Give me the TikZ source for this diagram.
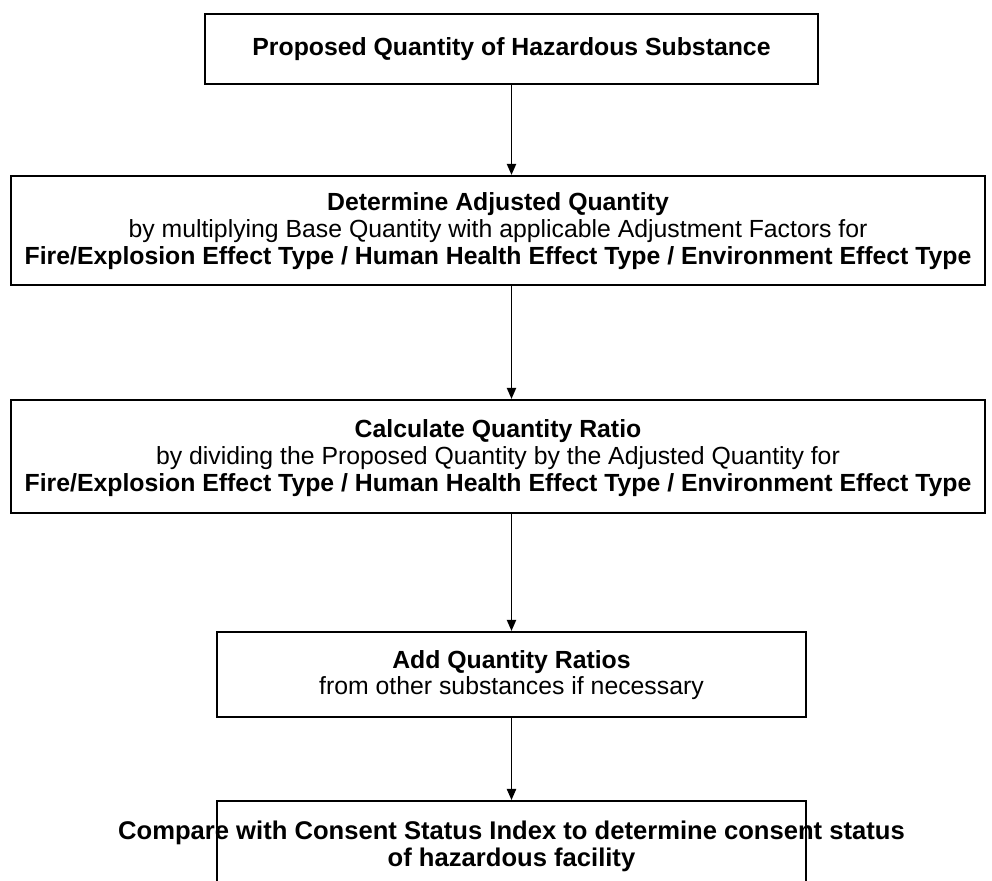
\documentclass[tikz,border=0pt]{standalone}
\usepackage{fontspec}
\setmainfont{Liberation Sans}
\usetikzlibrary{arrows.meta}
\begin{document}
\begin{tikzpicture}[x=0.5pt,y=-0.5pt,
  box/.style={draw, line width=1.1pt, inner sep=0pt},
  txt/.style={align=center, inner sep=0pt, font=\fontsize{12.4}{13.4}\selectfont},
  conn/.style={-{Triangle[length=5.5pt,width=4.6pt]}, line width=0.75pt}]
\useasboundingbox (0,0) rectangle (992,881);
\clip (0,0) rectangle (992,881);
% boxes
\node[box, minimum width=306.5pt, minimum height=35pt] (p1) at (511.5,49) {};
\node[box, minimum width=487pt, minimum height=54.5pt] (p2) at (498,230.5) {};
\node[box, minimum width=487pt, minimum height=56.5pt] (p3) at (498,456.5) {};
\node[box, minimum width=294.5pt, minimum height=42.5pt] (p4) at (511.5,674.5) {};
\node[box, minimum width=294.5pt, minimum height=60pt, anchor=north] (p5) at (511.5,800) {};
% texts
\node[txt] (t1) at (511.5,49)
  {\textbf{Proposed Quantity of Hazardous Substance}};
\node[txt] (t2) at (498,231)
  {\textbf{Determine Adjusted Quantity}\\
   by multiplying Base Quantity with applicable Adjustment Factors for\\
   \textbf{Fire/Explosion Effect Type / Human Health Effect Type / Environment Effect Type}};
\node[txt] (t3) at (498,458)
  {\textbf{Calculate Quantity Ratio}\\
   by dividing the Proposed Quantity by the Adjusted Quantity for\\
   \textbf{Fire/Explosion Effect Type / Human Health Effect Type / Environment Effect Type}};
\node[txt] (t4) at (511.5,675)
  {\textbf{Add Quantity Ratios}\\ from other substances if necessary};
\node[txt, font=\fontsize{12.8}{13.5}\selectfont] (t5) at (511.5,846)
  {\textbf{Compare with Consent Status Index to determine consent status}\\
   \textbf{of hazardous facility}};
% connectors
\draw[conn] (p1.south) -- (p1.south |- p2.north);
\draw[conn] (p2.south -| p1.south) -- (p3.north -| p1.south);
\draw[conn] (p3.south -| p4.north) -- (p4.north);
\draw[conn] (p4.south) -- (p5.north);
\end{tikzpicture}
\end{document}
